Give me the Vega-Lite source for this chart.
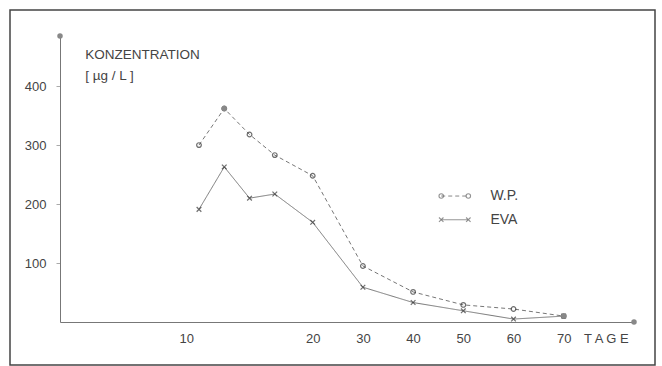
{
  "$schema": "https://vega.github.io/schema/vega-lite/v6.json",
  "width": 645,
  "height": 355,
  "autosize": {"type": "none"},
  "padding": {"left": 10, "top": 10, "right": 7, "bottom": 1},
  "background": "white",
  "config": {
    "view": {"stroke": "#444", "strokeWidth": 1.5},
    "font": "Liberation Sans",
    "axis": {"grid": false, "domainColor": "#777", "domainWidth": 1, "labelColor": "#444", "labelFont": "Liberation Sans", "labelFontSize": 13, "title": null}
  },
  "datasets": {
    "series": [
      {"x": 11, "y": 300, "s": "W.P."},
      {"x": 13, "y": 362, "s": "W.P."},
      {"x": 15, "y": 318, "s": "W.P."},
      {"x": 17, "y": 283, "s": "W.P."},
      {"x": 20, "y": 248, "s": "W.P."},
      {"x": 30, "y": 95, "s": "W.P."},
      {"x": 40, "y": 51, "s": "W.P."},
      {"x": 50, "y": 29, "s": "W.P."},
      {"x": 60, "y": 22, "s": "W.P."},
      {"x": 70, "y": 10, "s": "W.P."},
      {"x": 11, "y": 191, "s": "EVA"},
      {"x": 13, "y": 263, "s": "EVA"},
      {"x": 15, "y": 210, "s": "EVA"},
      {"x": 17, "y": 217, "s": "EVA"},
      {"x": 20, "y": 169, "s": "EVA"},
      {"x": 30, "y": 59, "s": "EVA"},
      {"x": 40, "y": 33, "s": "EVA"},
      {"x": 50, "y": 19, "s": "EVA"},
      {"x": 60, "y": 5, "s": "EVA"},
      {"x": 70, "y": 10, "s": "EVA"}
    ],
    "legend": [
      {"x": 45.6, "y": 213.6, "s": "W.P."},
      {"x": 51.0, "y": 213.6, "s": "W.P."},
      {"x": 45.6, "y": 173.4, "s": "EVA"},
      {"x": 51.0, "y": 173.4, "s": "EVA"}
    ],
    "legendText": [
      {"x": 55.4, "y": 213.6, "t": "W.P."},
      {"x": 55.4, "y": 173.4, "t": "EVA"}
    ],
    "titles": [
      {"x": 2, "y": 452, "t": "KONZENTRATION"},
      {"x": 2, "y": 417, "t": "[ µg / L ]"}
    ],
    "dots": [
      {"x": 13, "y": 362},
      {"x": 70, "y": 10},
      {"x": 0, "y": 485},
      {"x": 84, "y": 0}
    ]
  },
  "encoding": {
    "x": {
      "field": "x", "type": "quantitative",
      "scale": {"domain": [0, 20, 84], "range": [50, 302.7, 624], "nice": false, "zero": false},
      "axis": {"offset": -43, "values": [10, 20, 30, 40, 50, 60, 70, 78.4], "ticks": false, "labelPadding": 10, "labelExpr": "datum.value > 75 ? 'T A G E' : datum.label", "labelFlush": false, "labelOverlap": false}
    },
    "y": {
      "field": "y", "type": "quantitative",
      "scale": {"domain": [0, 485], "range": [312, 26], "nice": false, "zero": false},
      "axis": {"offset": -50, "values": [100, 200, 300, 400], "tickSize": 4, "tickColor": "#aaa", "labelPadding": 10}
    }
  },
  "layer": [
    {
      "data": {"name": "series"},
      "mark": {"type": "line", "color": "#777", "strokeWidth": 1},
      "encoding": {
        "detail": {"field": "s"},
        "strokeDash": {"field": "s", "type": "nominal", "scale": {"domain": ["W.P.", "EVA"], "range": [[4, 3], [1, 0]]}, "legend": null}
      }
    },
    {
      "data": {"name": "series"},
      "mark": {"type": "point", "filled": false, "color": "#333", "strokeWidth": 1.2, "size": 22},
      "encoding": {
        "shape": {"field": "s", "type": "nominal", "scale": {"domain": ["W.P.", "EVA"], "range": ["circle", "M-1,-1L1,1M-1,1L1,-1"]}, "legend": null}
      }
    },
    {
      "data": {"name": "legend"},
      "mark": {"type": "line", "color": "#888", "strokeWidth": 1},
      "encoding": {
        "detail": {"field": "s"},
        "strokeDash": {"field": "s", "type": "nominal", "scale": {"domain": ["W.P.", "EVA"], "range": [[4, 3], [1, 0]]}, "legend": null}
      }
    },
    {
      "data": {"name": "legend"},
      "mark": {"type": "point", "filled": false, "color": "#666", "strokeWidth": 1.1, "size": 20},
      "encoding": {
        "shape": {"field": "s", "type": "nominal", "scale": {"domain": ["W.P.", "EVA"], "range": ["circle", "M-1,-1L1,1M-1,1L1,-1"]}, "legend": null}
      }
    },
    {
      "data": {"name": "dots"},
      "mark": {"type": "point", "filled": true, "color": "#888", "size": 30, "opacity": 1}
    },
    {
      "data": {"name": "legendText"},
      "mark": {"type": "text", "align": "left", "baseline": "middle", "fontSize": 14, "color": "#444"},
      "encoding": {"text": {"field": "t"}}
    },
    {
      "data": {"name": "titles"},
      "mark": {"type": "text", "align": "left", "baseline": "middle", "fontSize": 13.5, "color": "#444"},
      "encoding": {"text": {"field": "t"}}
    }
  ]
}
